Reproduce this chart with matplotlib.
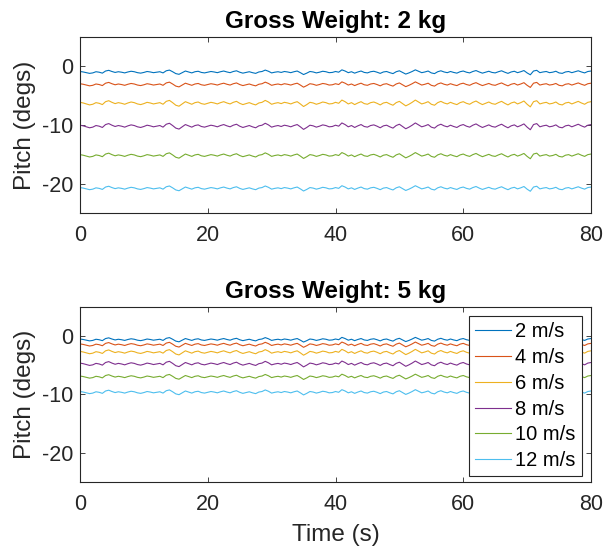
import numpy as np
import matplotlib
matplotlib.use("Agg")
import matplotlib.pyplot as plt

plt.rcParams['font.family'] = ['Liberation Sans', 'DejaVu Sans']
plt.rcParams['axes.unicode_minus'] = False

# ---- data ----
time_s = np.arange(0, 80.5, 0.5)
# common pitch disturbance shape (degrees, normalised)
disturbance = [
    0.3, 0.1, -0.2, -0.5, -0.3, 0.2, 0.0, -0.4, 0.5, 0.8, 0.3, -0.1, 0.2, 0.0, -0.3, 0.1,
    0.4, 0.2, -0.2, -0.4, -0.1, 0.3, 0.1, -0.2, 0.0, 0.2, -0.3, 0.6, 0.9, 0.2, -0.6, -0.9,
    -0.2, 0.5, 0.1, -0.3, 0.2, 0.4, -0.1, -0.3, 0.0, 0.3, 0.1, -0.2, 0.2, 0.5, 0.1, -0.2,
    0.3, 0.6, 0.0, -0.4, -0.1, 0.2, -0.2, -0.5, 0.1, 0.3, 0.9, 0.4, -0.3, 0.0, 0.2, -0.1,
    0.3, 0.1, -0.2, 0.2, 0.5, -0.2, -1.0, -0.4, 0.3, 0.1, -0.3, 0.0, 0.4, 0.2, -0.2, -0.1,
    0.3, 0.0, 1.0, 0.5, -0.2, 0.2, -0.4, 0.1, 0.5, -0.1, -0.3, 0.2, 0.4, 0.0, -0.5, 0.1,
    0.3, -0.2, -0.6, 0.2, 0.6, -0.1, -0.8, -0.3, 0.3, 1.0, 0.4, -0.2, 0.1, 0.5, -0.3, -0.6,
    0.2, 0.6, 0.1, -0.2, 0.3, -0.1, -0.4, 0.2, 0.5, 0.0, -0.3, 0.3, 0.7, 0.1, -0.4, 0.0,
    0.4, -0.1, -0.3, 0.2, 0.6, 0.0, -0.5, 0.1, 0.4, -0.2, 0.2, 0.7, -0.3, -1.1, 0.5, 0.8,
    -0.2, 0.1, 0.3, -0.2, 0.0, 0.4, -0.3, -0.5, 0.1, 0.3, -0.2, 0.2, 0.6, 0.1, -0.3, 0.3,
    0.5,
]
speeds = ['2 m/s', '4 m/s', '6 m/s', '8 m/s', '10 m/s', '12 m/s']
mean_pitch_2kg = [-1.0, -3.1, -6.3, -10.2, -15.2, -20.8]
amp_pitch_2kg = [0.4, 0.45, 0.55, 0.55, 0.5, 0.45]
mean_pitch_5kg = [-0.65, -1.5, -2.8, -4.8, -7.0, -9.65]
amp_pitch_5kg = [0.4, 0.45, 0.5, 0.5, 0.45, 0.45]
titles = ['Gross Weight: 2 kg', 'Gross Weight: 5 kg']
x_ticks = [0, 20, 40, 60, 80]
y_ticks = [-20, -10, 0]

colors = ['#0072BD', '#D95319', '#EDB120', '#7E2F8E', '#77AC30', '#4DBEEE']
axc = '#262626'

fig = plt.figure(figsize=(6.05, 5.5), dpi=100)
ax1 = fig.add_axes([80/605, 1-213/550, 511/605, 176/550])
ax2 = fig.add_axes([80/605, 1-482/550, 511/605, 175.3/550])

dist = np.array(disturbance)
for ax, means, amps, title in [(ax1, mean_pitch_2kg, amp_pitch_2kg, titles[0]),
                               (ax2, mean_pitch_5kg, amp_pitch_5kg, titles[1])]:
    for m, a, c, lab in zip(means, amps, colors, speeds):
        ax.plot(time_s, m + a * dist, color=c, lw=0.8, label=lab)
    ax.set_xlim(0, 80)
    ax.set_ylim(-25, 5)
    ax.set_xticks(x_ticks)
    ax.set_yticks(y_ticks)
    ax.tick_params(direction='in', length=3.6, width=0.6, colors=axc,
                   labelsize=15.5, top=True, right=True)
    ax.tick_params(axis='x', pad=9)
    ax.tick_params(axis='y', pad=5)
    for s in ax.spines.values():
        s.set_color(axc)
        s.set_linewidth(0.8)
    ax.set_title(title, fontsize=17.5, fontweight='bold', pad=6.5, color='black')
    ax.set_ylabel('Pitch (degs)', fontsize=17.5, color=axc)
    ax.yaxis.set_label_coords(-0.086, 0.5)

ax2.set_xlabel('Time (s)', fontsize=17.5, color=axc)
ax2.xaxis.set_label_coords(0.5, -0.24)

leg = ax2.legend(loc='upper right', bbox_to_anchor=(0.982, 0.947), borderaxespad=0,
                 fontsize=14.5, frameon=True, fancybox=False, framealpha=1,
                 edgecolor=axc, handlelength=1.8, handletextpad=0.2,
                 labelspacing=0.34, borderpad=0.3)
leg.get_frame().set_linewidth(0.8)

fig.savefig('out.png', dpi=100)
